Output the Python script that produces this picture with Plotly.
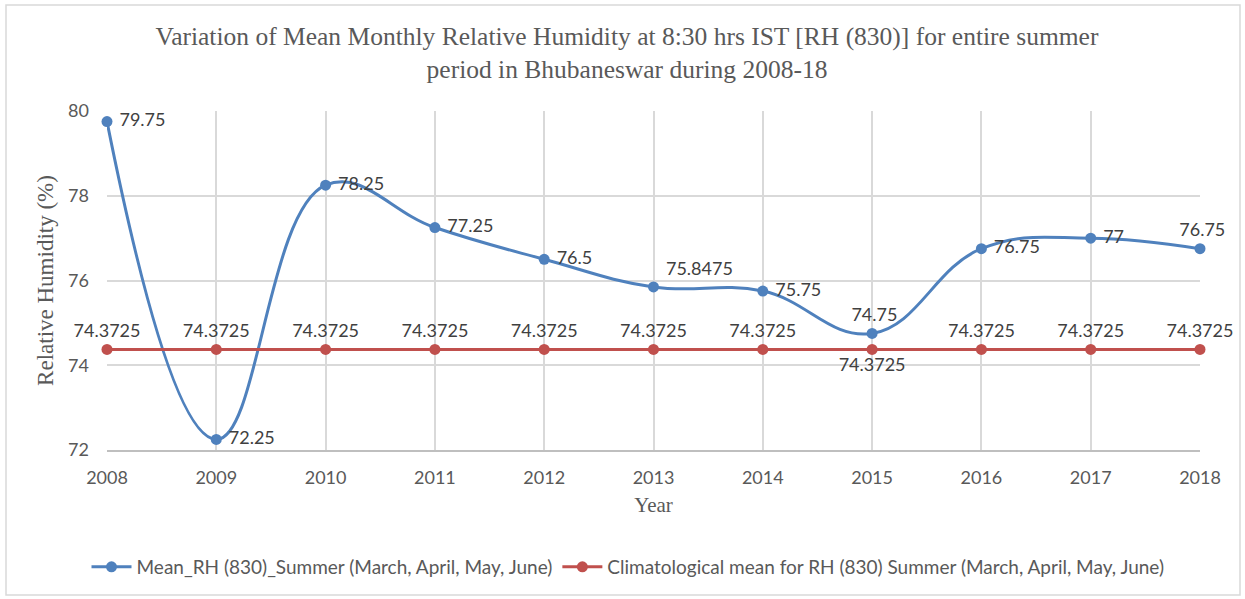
import plotly.graph_objects as go

years = [2008, 2009, 2010, 2011, 2012, 2013, 2014, 2015, 2016, 2017, 2018]
mean_rh = [79.75, 72.25, 78.25, 77.25, 76.5, 75.8475, 75.75, 74.75, 76.75, 77, 76.75]
clim_mean = [74.3725] * 11
mean_labels = ["79.75", "72.25", "78.25", "77.25", "76.5", "75.8475", "75.75", "74.75", "76.75", "77", "76.75"]
clim_labels = ["74.3725"] * 11

name_mean = "Mean_RH (830)_Summer (March, April, May, June)"
name_clim = "Climatological mean for RH (830) Summer (March, April, May, June)"

blue = "#4F81BD"
red = "#C0504D"
sans = "Lato, Liberation Sans, sans-serif"
serif = "Liberation Serif, Times New Roman, serif"
lab_font = dict(family=sans, size=18, color="#404040")

blue_pos = ["middle right", "middle right", "middle right", "middle right", "middle right",
            "top right", "middle right", "top center", "middle right", "middle right", "top center"]
red_pos = ["top center"] * 7 + ["bottom center"] + ["top center"] * 3

fig = go.Figure()
fig.add_trace(go.Scatter(
    x=years, y=mean_rh, name=name_mean, mode="lines+markers+text",
    line=dict(color=blue, width=3, shape="spline", smoothing=1.2),
    marker=dict(color=blue, size=11),
    text=[" " + t for t in mean_labels], textposition=blue_pos, textfont=lab_font,
    cliponaxis=False,
))
fig.add_trace(go.Scatter(
    x=years, y=clim_mean, name=name_clim, mode="lines+markers+text",
    line=dict(color=red, width=3),
    marker=dict(color=red, size=11),
    text=clim_labels, textposition=red_pos, textfont=lab_font,
    cliponaxis=False,
))

# outer chart border
L, R, T, B = 107, 45, 111, 149
W, H = 1245, 599
pw, ph = W - L - R, H - T - B
def px_x(p):
    return (p - L) / pw
def px_y(p):
    return (H - B - p) / ph
fig.add_shape(type="rect", xref="paper", yref="paper",
              x0=px_x(6), x1=px_x(1240), y0=px_y(595), y1=px_y(5),
              line=dict(color="#D9D9D9", width=1.5), layer="below")

fig.update_layout(
    width=W, height=H,
    margin=dict(l=L, r=R, t=T, b=B, autoexpand=False),
    paper_bgcolor="white", plot_bgcolor="white",
    title=dict(
        text="Variation of Mean Monthly Relative Humidity at 8:30 hrs IST [RH (830)] for entire summer<br>period in Bhubaneswar during 2008-18",
        x=627 / W, xanchor="center", y=1 - 45 / H, yanchor="top",
        font=dict(family=serif, size=25.5, color="#595959"),
    ),
    legend=dict(orientation="h", x=px_x(628), xanchor="center", y=px_y(567), yanchor="middle",
                font=dict(family=sans, size=19, color="#595959"),
                itemwidth=40),
    showlegend=True,
)
fig.update_xaxes(
    range=[2008, 2018], tickmode="array", tickvals=years, ticktext=[str(y) for y in years],
    showgrid=True, gridcolor="#D9D9D9", gridwidth=1.5,
    showline=True, linecolor="#BFBFBF", linewidth=1.5,
    zeroline=False, ticks="", ticklabelstandoff=11, automargin=False,
    tickfont=dict(family=sans, size=18, color="#595959"),
    title=dict(text="Year", font=dict(family=serif, size=21, color="#595959"), standoff=10),
)
fig.update_yaxes(
    range=[72, 80], dtick=2, tick0=72,
    showgrid=True, gridcolor="#D9D9D9", gridwidth=1.5,
    showline=False, zeroline=False, ticks="", ticklabelstandoff=17, automargin=False,
    tickfont=dict(family=sans, size=18, color="#595959"),
    title=dict(text="Relative Humidity (%)", font=dict(family=serif, size=23, color="#595959"), standoff=8),
)

fig.write_html("out.html", config={"displayModeBar": False},
               post_script="document.body.style.margin='0px';")
